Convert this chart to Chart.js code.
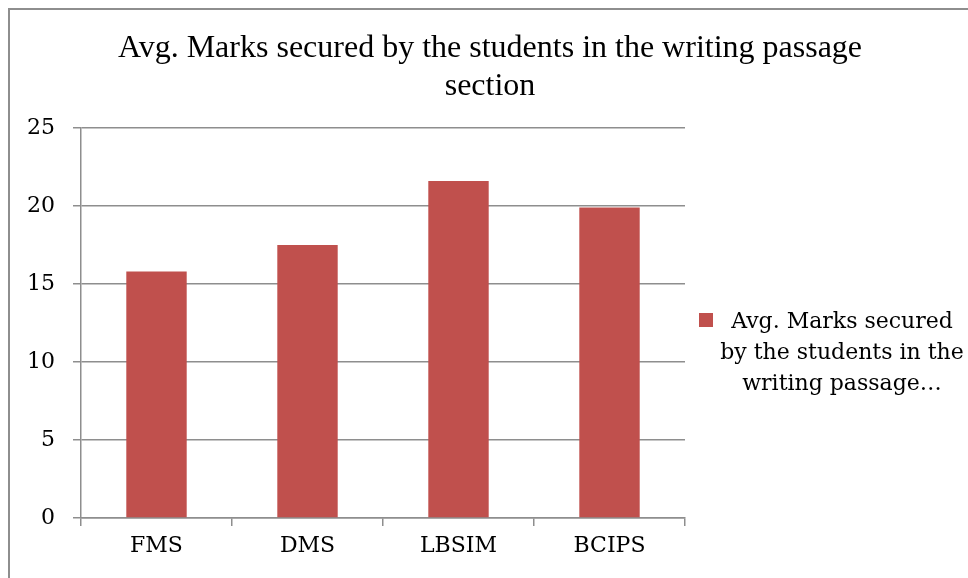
<!DOCTYPE html>
<html>
<head>
<meta charset="utf-8">
<script src="https://cdn.jsdelivr.net/npm/chart.js@4"></script>
<style>
  body { margin: 0; background: #fff; }
  canvas { display: block; }
</style>
</head>
<body>
<canvas id="chart" width="968" height="578"></canvas>
<script>
// data
const schools = ['FMS', 'DMS', 'LBSIM', 'BCIPS'];
const avgMarks = [15.8, 17.5, 21.6, 19.9];
const yTicks = [0, 5, 10, 15, 20, 25];
const seriesLabel = 'Avg. Marks secured by the students in the writing passage section';
const legendLines = ['Avg. Marks secured', 'by the students in the', 'writing passage…'];
const titleLines = ['Avg. Marks secured by the students in the writing passage', 'section'];

const gray = '#8e8e8e';
const barColor = '#C0504D';
const tickFont = { family: 'DejaVu Serif', size: 22 };

// thin frame round the chart, like the original's border
const framePlugin = {
    id: 'frame',
    beforeDraw(chart) {
        const ctx = chart.ctx;
        ctx.save();
        ctx.strokeStyle = gray;
        ctx.lineWidth = 2;
        ctx.beginPath();
        ctx.moveTo(9, chart.height);
        ctx.lineTo(9, 9);
        ctx.lineTo(chart.width, 9);
        ctx.stroke();
        ctx.restore();
    }
};

// legend on the right, wrapped on several lines
const sideLegend = {
    id: 'sideLegend',
    afterDraw(chart) {
        const ctx = chart.ctx;
        const area = chart.chartArea;
        const ds = chart.data.datasets[0];
        const top = (area.top + area.bottom) / 2;
        ctx.save();
        ctx.fillStyle = ds.backgroundColor;
        ctx.fillRect(area.right + 14, top - 10, 14, 14);
        ctx.fillStyle = '#000';
        ctx.font = '22px "DejaVu Serif"';
        ctx.textAlign = 'center';
        ctx.textBaseline = 'alphabetic';
        legendLines.forEach((line, i) => {
            ctx.fillText(line, area.right + 157, top + 5 + i * 31);
        });
        ctx.restore();
    }
};

const ctx = document.getElementById('chart').getContext('2d');
const myChart = new Chart(ctx, {
    type: 'bar',
    data: {
        labels: schools,
        datasets: [{
            label: seriesLabel,
            data: avgMarks,
            backgroundColor: barColor,
            borderWidth: 0,
            categoryPercentage: 1,
            barPercentage: 0.4
        }]
    },
    options: {
        responsive: false,
        animation: false,
        layout: { padding: { left: 12, top: 0, right: 0, bottom: 0 } },
        plugins: {
            legend: { display: false },
            tooltip: { enabled: false },
            title: {
                display: true,
                text: titleLines,
                color: '#000',
                font: { family: 'Liberation Serif', size: 32, weight: 'normal', lineHeight: 1.1875 },
                padding: { top: 30, bottom: 22 }
            }
        },
        scales: {
            x: {
                grid: { display: true, drawOnChartArea: false, color: gray, lineWidth: 1.5, tickLength: 8, offset: true },
                border: { color: gray, width: 1.5 },
                ticks: { color: '#000', font: tickFont, padding: 7 },
                afterFit(scale) { scale.height = 60; }
            },
            y: {
                min: 0,
                max: 25,
                afterBuildTicks(scale) { scale.ticks = yTicks.map(v => ({ value: v })); },
                grid: { color: gray, lineWidth: 1.5, tickLength: 8 },
                border: { color: gray, width: 1.5 },
                ticks: { color: '#000', font: tickFont, padding: 18 },
                afterFit(scale) { scale.width = 69; }
            },
            side: {
                type: 'linear',
                position: 'right',
                grid: { display: false },
                border: { display: false },
                ticks: { display: false },
                afterFit(scale) { scale.width = 283; }
            }
        }
    },
    plugins: [framePlugin, sideLegend]
});
</script>
</body>
</html>
